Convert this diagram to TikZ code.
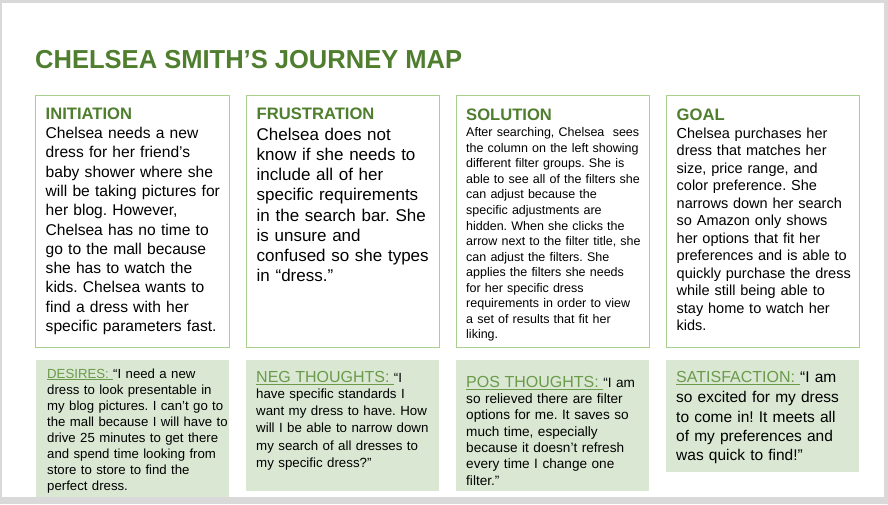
\documentclass[tikz,border=0pt]{standalone}
\usepackage{fontspec}
\setmainfont{Liberation Sans}
\frenchspacing

\definecolor{framegray}{HTML}{D9D9D9}
\definecolor{titlegreen}{HTML}{4F7E2F}
\definecolor{labelgreen}{HTML}{6A9A4A}
\definecolor{boxline}{HTML}{A9D08E}
\definecolor{notefill}{HTML}{DAE8D3}

% underlined green label with a slightly heavier rule
\newsavebox\lblbox
\newcommand\notelabel[1]{\sbox\lblbox{\color{labelgreen}#1}%
  \rlap{\color{labelgreen}\rule[-2.3pt]{\wd\lblbox}{0.9pt}}\usebox\lblbox}

\tikzset{
  stagebox/.style={draw=boxline, line width=0.8pt, fill=white, anchor=north west,
    inner sep=0pt, minimum width=#1},
  stagebox/.default=194pt,
  notebox/.style={fill=notefill, draw=none, anchor=north west, inner sep=0pt},
  stagehead/.style={anchor=base west, inner sep=0pt, text=titlegreen,
    font=\fontsize{16.6}{19}\selectfont\bfseries},
  bodytext/.style={anchor=base west, inner sep=0pt, align=left, text width=200pt},
}

\begin{document}
\begin{tikzpicture}[x=1pt, y=-1pt]
\useasboundingbox (0,0) rectangle (888,504);
% slide frame
\fill[framegray] (0,0) rectangle (888,504);
\fill[white] (2,3) rectangle (884,497);

% title
\node[anchor=base west, inner sep=0pt, text=titlegreen,
      font=\fontsize{26}{30}\selectfont\bfseries] (title) at (35,68)
  {\scalebox{0.982}[1]{CHELSEA SMITH’S JOURNEY MAP}};

% stage boxes
\node[stagebox, minimum height=252pt] (initbox) at (35,95) {};
\node[stagebox=193pt, minimum height=252pt] (frusbox) at (246,95) {};
\node[stagebox=193pt, minimum height=252pt] (solbox) at (456,95) {};
\node[stagebox=193pt, minimum height=252pt] (goalbox) at (666,95) {};

% stage headings
\node[stagehead] (inithead) at (45.5,119.5) {INITIATION};
\node[stagehead] (frushead) at (256.5,119.5) {FRUSTRATION};
\node[stagehead] (solhead) at (466,120) {SOLUTION};
\node[stagehead] (goalhead) at (676.5,120) {GOAL};

% stage descriptions
\node[bodytext, font=\fontsize{15.6}{19.3}\selectfont] (inittext) at (45.5,138.5)
  {Chelsea needs a new\\dress for her friend’s\\baby shower where she\\will be taking pictures for\\her blog. However,\\Chelsea has no time to\\go to the mall because\\she has to watch the\\kids. Chelsea wants to\\find a dress with her\\specific parameters fast.};

\node[bodytext, font=\fontsize{17}{20.2}\selectfont] (frustext) at (256.5,140.3)
  {Chelsea does not\\know if she needs to\\include all of her\\specific requirements\\in the search bar. She\\is unsure and\\confused so she types\\in “dress.”};

\node[bodytext, font=\fontsize{12.5}{15.55}\selectfont] (soltext) at (466,136.7)
  {After searching, Chelsea\ \ sees\\the column on the left showing\\different filter groups. She is\\able to see all of the filters she\\can adjust because the\\specific adjustments are\\hidden. When she clicks the\\arrow next to the filter title, she\\can adjust the filters. She\\applies the filters she needs\\for her specific dress\\requirements in order to view\\a set of results that fit her\\liking.};

\node[bodytext, font=\fontsize{14.5}{17.5}\selectfont] (goaltext) at (676.5,138)
  {Chelsea purchases her\\dress that matches her\\size, price range, and\\color preference. She\\narrows down her search\\so Amazon only shows\\her options that fit her\\preferences and is able to\\quickly purchase the dress\\while still being able to\\stay home to watch her\\kids.};

% note boxes
\node[notebox, minimum width=193pt, minimum height=137pt] (desbox) at (36,360) {};
\node[notebox, minimum width=193pt, minimum height=131pt] (negbox) at (246,360) {};
\node[notebox, minimum width=193pt, minimum height=131pt] (posbox) at (456,360) {};
\node[notebox, minimum width=193pt, minimum height=112pt] (satbox) at (666,360) {};

% note texts
\node[bodytext, font=\fontsize{13.2}{16.1}\selectfont] (destext) at (47,378)
  {\notelabel{DESIRES: }“I need a new\\dress to look presentable in\\my blog pictures. I can’t go to\\the mall because I will have to\\drive 25 minutes to get there\\and spend time looking from\\store to store to find the\\perfect dress.};

\node[bodytext, font=\fontsize{13.3}{17.25}\selectfont] (negtext) at (256,382.7)
  {{\fontsize{16}{19}\selectfont\notelabel{NEG THOUGHTS: }}“I\\[-1.65pt]have specific standards I\\want my dress to have. How\\will I be able to narrow down\\my search of all dresses to\\my specific dress?”};

\node[bodytext, font=\fontsize{13.6}{16.3}\selectfont] (postext) at (466,387.3)
  {{\fontsize{16}{19}\selectfont\notelabel{POS THOUGHTS: }}“I am\\so relieved there are filter\\options for me. It saves so\\much time, especially\\because it doesn’t refresh\\every time I change one\\filter.”};

\node[bodytext, font=\fontsize{15.5}{19.4}\selectfont] (sattext) at (676,382.3)
  {{\fontsize{16}{19}\selectfont\notelabel{SATISFACTION: }}“I am\\[1pt]so excited for my dress\\to come in! It meets all\\of my preferences and\\was quick to find!”};
\end{tikzpicture}
\end{document}
